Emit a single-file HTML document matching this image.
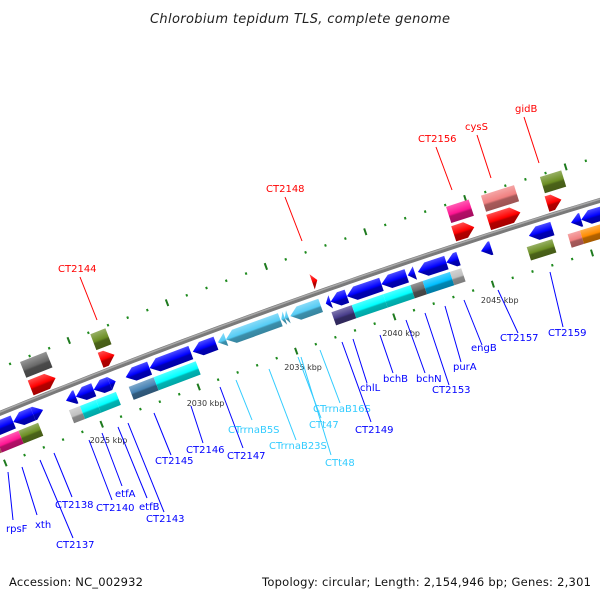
<!DOCTYPE html>
<html><head><meta charset="utf-8"><style>
html,body{margin:0;padding:0;background:#fff;}
svg{display:block;}
text{font-family:"DejaVu Sans","Liberation Sans",sans-serif;}
</style></head><body>
<svg id="map" width="600" height="600" viewBox="0 0 600 600" xmlns="http://www.w3.org/2000/svg">
<defs id="defs"></defs>
<rect x="0" y="0" width="600" height="600" fill="#fff"/>
<text x="300" y="23" text-anchor="middle" font-size="13" font-style="italic" fill="#222" textLength="300">Chlorobium tepidum TLS, complete genome</text>
<g id="ticks"></g>
<g id="backbone"></g>
<g id="features"></g>
<g id="labels"></g>
<text x="9" y="586" font-size="11.5" fill="#111" textLength="134">Accession: NC_002932</text>
<text x="591" y="586" text-anchor="end" font-size="11.5" fill="#111" textLength="329">Topology: circular; Length: 2,154,946 bp; Genes: 2,301</text>
</svg>
<script>
// ---- data ----
const featStart = [2019.8,2021.10,2022.12,2023.82,2024.33,2025.25,2026.07,2026.89,2028.12,2030.33,2031.61,2032.02,2034.84,2035.02,2035.30,2037.10,2037.35,2038.17,2039.92,2041.25,2041.76,2043.20,2044.94,2047.35,2049.46,2049.97,
 2019.3,2020.04,2021.17,2023.78,2024.35,2025.17,2026.86,2028.14,2037.22,2038.25,2039.84,2041.22,2041.84,2043.22,2047.09,2049.14,2049.76,
 2022.48,2026.07,2036.83,2043.96,2045.71,2048.63,
 2022.47,2026.06,2044.01,2045.75,2048.69];
const featEnd = [2021.10,2022.12,2022.64,2024.33,2025.25,2026.07,2026.38,2028.12,2030.23,2031.51,2032.02,2034.79,2035.02,2035.20,2036.84,2037.35,2038.17,2039.92,2041.20,2041.61,2043.20,2043.81,2045.46,2048.53,2049.97,2051.4,
 2020.04,2021.17,2022.19,2024.35,2025.17,2026.20,2028.14,2030.30,2038.25,2039.84,2041.22,2041.84,2043.22,2043.79,2048.37,2049.76,2051.7,
 2023.76,2026.78,2037.09,2044.99,2047.30,2049.35,
 2023.81,2026.83,2045.14,2047.40,2049.75];
const featRow = ["b","b","b","b","b","b","b","b","b","b","b","b","b","b","b","b","b","b","b","b","b","b","b","b","b","b",
 "c","c","c","c","c","c","c","c","c","c","c","c","c","c","c","c","c",
 "r","r","r","r","r","r",
 "o","o","o","o","o"];
const featDir = ["L","L","R","L","L","L","R","L","L","L","L","L","L","L","L","L","L","L","L","L","L","L","L","L","L","L",
 "N","N","N","N","N","N","N","N","N","N","N","N","N","N","N","N","N",
 "R","R","R","R","R","R",
 "N","N","N","N","N"];
const featColor = ["#0000ff","#0000ff","#0000ff","#0000ff","#0000ff","#0000ff","#0000ff","#0000ff","#0000ff","#0000ff","#55ccf5","#55ccf5","#55ccf5","#55ccf5","#55ccf5","#0000ff","#0000ff","#0000ff","#0000ff","#0000ff","#0000ff","#0000ff","#0000ff","#0000ff","#0000ff","#0000ff",
 "#f08080","#ff1493","#6b8e23","#c0c0c0","#00ffff","#00ffff","#4682b4","#00ffff","#483d8b","#00ffff","#00ffff","#696969","#00bfff","#c0c0c0","#6b8e23","#f08080","#ff8c00",
 "#ff0000","#ff0000","#ff0000","#ff0000","#ff0000","#ff0000",
 "#696969","#6b8e23","#ff1493","#f08080","#6b8e23"];
const tickStart = 2018;
const tickEnd = 2053;
const tickLabelKbp = [2025,2030,2035,2040,2045];
const labelText = ["rpsF","xth","CT2137","CT2138","CT2140","etfA","etfB","CT2143","CT2145","CT2146","CT2147","CTrrnaB5S","CTrrnaB23S","CTrrnaB16S","CTt47","CTt48","CT2149","chlL","bchB","bchN","CT2153","purA","engB","CT2157","CT2159","CT2144","CT2148","CT2156","cysS","gidB"];
const labelX = [6,35,56,55,96,115,139,146,155,186,227,228,269,313,309,325,355,360,383,416,432,453,471,500,548,58,266,418,465,515];
const labelY = [532,528,548,508,511,497,510,522,464,453,459,433,449,412,428,466,433,391,382,382,393,370,351,341,336,272,192,142,130,112];
const labelKind = ["b","b","b","b","b","b","b","b","b","b","b","l","l","l","l","l","b","b","b","b","b","b","b","b","b","r","r","r","r","r"];
const leadX1 = [8,22,40,54,89,102,118,128,154,191,220,236,269,320,298,301,342,353,380,406,425,445,464,498,550,80,285,436,477,524];
const leadY1 = [472,467,460,453,440,433,427,423,413,406,387,380,369,350,357,357,342,339,335,320,313,306,300,290,272,277,197,147,135,117];
const leadX2 = [13,37,73,72,112,122,147,164,171,203,243,252,296,340,321,331,371,367,393,425,449,461,482,518,563,97,302,452,491,539];
const leadY2 = [520,515,538,497,500,486,498,512,455,443,448,420,440,403,418,455,422,383,373,373,385,362,345,333,327,320,241,190,178,163];

// ---- geometry ----
const SVGNS = "http://www.w3.org/2000/svg";
const cx = 2555, cy = 6660, R0 = 6749;
const a25 = Math.atan2(425 - cy, 102 - cx);
const a40 = Math.atan2(316 - cy, 394 - cx);
const da = (a40 - a25) / 15;
const pxPerK = (R0 - 48) * da;
function P(k, v) {
  const a = a25 + (k - 2025) * da, r = R0 + v;
  return [cx + r * Math.cos(a), cy + r * Math.sin(a)];
}
const rowIn = {b: -20, c: -37, r: 4, o: 23};
const rowOut = {b: -6, c: -23, r: 20, o: 40};
function shade(hex, f) {
  const n = parseInt(hex.slice(1), 16);
  let r = (n >> 16) & 255, g = (n >> 8) & 255, b = n & 255;
  if (f >= 0) { r += (255 - r) * f; g += (255 - g) * f; b += (255 - b) * f; }
  else { r *= 1 + f; g *= 1 + f; b *= 1 + f; }
  return "rgb(" + Math.round(r) + "," + Math.round(g) + "," + Math.round(b) + ")";
}
function mk(tag, attrs, parent) {
  const e = document.createElementNS(SVGNS, tag);
  for (const key in attrs) e.setAttribute(key, attrs[key]);
  parent.appendChild(e);
  return e;
}
const defs = document.getElementById("defs");

// backbone
(function () {
  const g = document.getElementById("backbone");
  let d = "";
  for (let k = 2017; k <= 2054; k += 0.5) { const p = P(k, 0); d += (d ? "L" : "M") + p[0].toFixed(1) + " " + p[1].toFixed(1); }
  const l1 = mk("path", {d: d, fill: "none", stroke: "#7a7a7a", "stroke-width": 5}, g);
  
  
  let d2 = "";
  for (let k = 2017; k <= 2054; k += 0.5) { const p = P(k, 1.2); d2 += (d2 ? "L" : "M") + p[0].toFixed(1) + " " + p[1].toFixed(1); }
  const l2 = mk("path", {d: d2, fill: "none", stroke: "#a8a8a8", "stroke-width": 1.5}, g);
  
  
})();

// ticks
(function () {
  const g = document.getElementById("ticks");
  [42, -48].forEach(function (v) {
    for (let k = tickStart; k <= tickEnd; k++) {
      let el;
      if (k % 5 === 0) {
        const p1 = P(k, v - 3.5), p2 = P(k, v + 3.5);
        el = mk("line", {x1: p1[0], y1: p1[1], x2: p2[0], y2: p2[1], stroke: "#1e7a1e", "stroke-width": 2}, g);
        
      } else {
        const p1 = P(k, v - 1.2), p2 = P(k, v + 1.2);
        el = mk("line", {x1: p1[0], y1: p1[1], x2: p2[0], y2: p2[1], stroke: "#1e8a1e", "stroke-width": 2}, g);
        
      }
      
    }
  });
  tickLabelKbp.forEach(function (k) {
    const p = P(k, -48);
    const t = mk("text", {x: (p[0] - 12).toFixed(1), y: (p[1] + 19).toFixed(1), "font-size": 8, fill: "#333"}, g);
    t.textContent = k + " kbp";
    
    
  });
})();

// features
(function () {
  const g = document.getElementById("features");
  for (let i = 0; i < featStart.length; i++) {
    const k1 = featStart[i], k2 = featEnd[i], row = featRow[i], dir = featDir[i], col = featColor[i];
    const vi = rowIn[row], vo = rowOut[row], vm = (vi + vo) / 2;
    const lenPx = (k2 - k1) * pxPerK;
    const hK = Math.min(9, lenPx) / pxPerK;
    let pts;
    if (dir === "R") {
      pts = [[k1, vo], [k2 - hK, vo], [k2, vm], [k2 - hK, vi], [k1, vi]];
    } else if (dir === "L") {
      pts = [[k1, vm], [k1 + hK, vo], [k2, vo], [k2, vi], [k1 + hK, vi]];
    } else {
      pts = [[k1, vo], [k2, vo], [k2, vi], [k1, vi]];
    }
    const gid = "gr" + i;
    const km = (k1 + k2) / 2, gTop = P(km, vo), gBot = P(km, vi);
    const gr = mk("linearGradient", {id: gid, gradientUnits: "userSpaceOnUse", x1: gTop[0], y1: gTop[1], x2: gBot[0], y2: gBot[1]}, defs);
    mk("stop", {offset: "0", "stop-color": shade(col, 0.3)}, gr);
    mk("stop", {offset: "0.5", "stop-color": col}, gr);
    mk("stop", {offset: "0.62", "stop-color": shade(col, -0.3)}, gr);
    mk("stop", {offset: "1", "stop-color": shade(col, -0.35)}, gr);
    const d = pts.map(function (q, j) { const p = P(q[0], q[1]); return (j ? "L" : "M") + p[0].toFixed(1) + " " + p[1].toFixed(1); }).join("") + "Z";
    const el = mk("path", {d: d, fill: "url(#" + gid + ")"}, g);
    
    
  }
})();

// labels
(function () {
  const g = document.getElementById("labels");
  const colors = {b: "#0000ff", l: "#33ccff", r: "#ff0000"};
  for (let i = 0; i < labelText.length; i++) {
    const c = colors[labelKind[i]];
    const ln = mk("line", {x1: leadX1[i], y1: leadY1[i], x2: leadX2[i], y2: leadY2[i], stroke: c, "stroke-width": 1}, g);
    
    
    const t = mk("text", {x: labelX[i], y: labelY[i], "font-size": 10, fill: c}, g);
    t.textContent = labelText[i];
    
    
  }
})();
</script>
</body></html>
